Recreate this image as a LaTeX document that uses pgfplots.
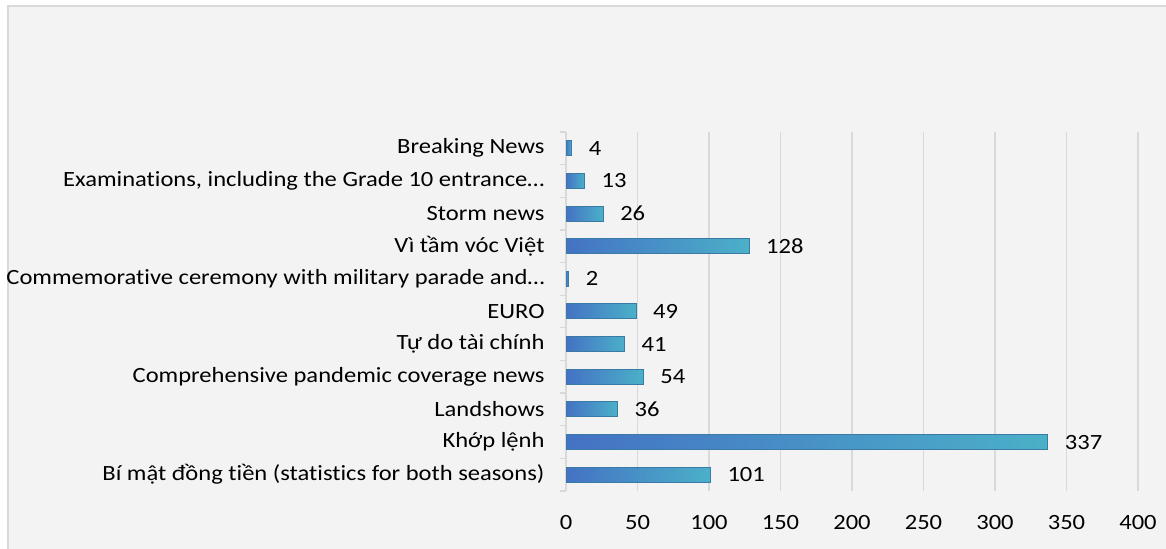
\documentclass[border=0pt]{standalone}
\usepackage{pgfplots}
\pgfplotsset{compat=1.18}
\usepackage{fontspec}
\setmainfont{Carlito}[FakeStretch=1.13, Ligatures=NoCommon]
\definecolor{bgc}{HTML}{F3F3F3}
\definecolor{framec}{HTML}{D9D9D9}
\definecolor{gridc}{HTML}{D9D9D9}
\definecolor{barA}{HTML}{4472C4}
\definecolor{barB}{HTML}{4BB0C8}
\definecolor{barline}{HTML}{3A7AA6}
\newcommand{\lf}{\fontsize{16.3}{19}\selectfont}
\begin{document}
\lf
\begin{tikzpicture}[x=0.75pt,y=0.75pt]
\useasboundingbox (0,0) rectangle (1166,549);
\fill[white] (0,0) rectangle (1166,549);
\fill[bgc] (8,0) rectangle (1166,543);
\draw[framec, line width=1.5pt] (8,-2) -- (8,543) -- (1170,543);
\begin{axis}[
  at={(424.5pt,43.5pt)}, anchor=south west,
  scale only axis, width=429pt, height=269.25pt,
  xmin=0, xmax=400, ymin=-0.5, ymax=10.5,
  xtick={0,50,...,400},
  ytick={0,...,10},
  minor ytick={-0.5,0.5,...,10.5},
  yticklabels={
    {Bí mật đồng tiền (statistics for both seasons)},
    {Khớp lệnh},
    {Landshows},
    {Comprehensive pandemic coverage news},
    {Tự do tài chính},
    {EURO},
    {Commemorative ceremony with military parade and…},
    {Vì tầm vóc Việt},
    {Storm news},
    {Examinations, including the Grade 10 entrance…},
    {Breaking News}},
  axis x line*=bottom,
  x axis line style={draw=none},
  axis y line*=left,
  y axis line style={draw=gridc, line width=1pt, -},
  xmajorgrids, major grid style={draw=gridc, line width=1pt},
  major tick length=0pt,
  minor tick length=4.5pt,
  tick align=outside,
  minor tick style={draw=gridc, line width=1pt},
  /pgf/number format/assume math mode=true,
  tick label style={font=\lf, text=black},
  yticklabel style={xshift=-10.5pt},
  xticklabel style={yshift=-13pt},
  clip=false,
  mybar/.style={xbar, bar shift=0pt, bar width=11.25pt, draw=barline, line width=0.75pt,
    left color=barA, right color=barB,
    nodes near coords,
    nodes near coords style={font=\lf, text=black, anchor=west, xshift=7pt}},
]
\addplot[mybar] coordinates {(101,0)};
\addplot[mybar] coordinates {(337,1)};
\addplot[mybar] coordinates {(36,2)};
\addplot[mybar] coordinates {(54,3)};
\addplot[mybar] coordinates {(41,4)};
\addplot[mybar] coordinates {(49,5)};
\addplot[mybar] coordinates {(2,6)};
\addplot[mybar] coordinates {(128,7)};
\addplot[mybar] coordinates {(26,8)};
\addplot[mybar] coordinates {(13,9)};
\addplot[mybar] coordinates {(4,10)};
\end{axis}
\end{tikzpicture}
\end{document}
